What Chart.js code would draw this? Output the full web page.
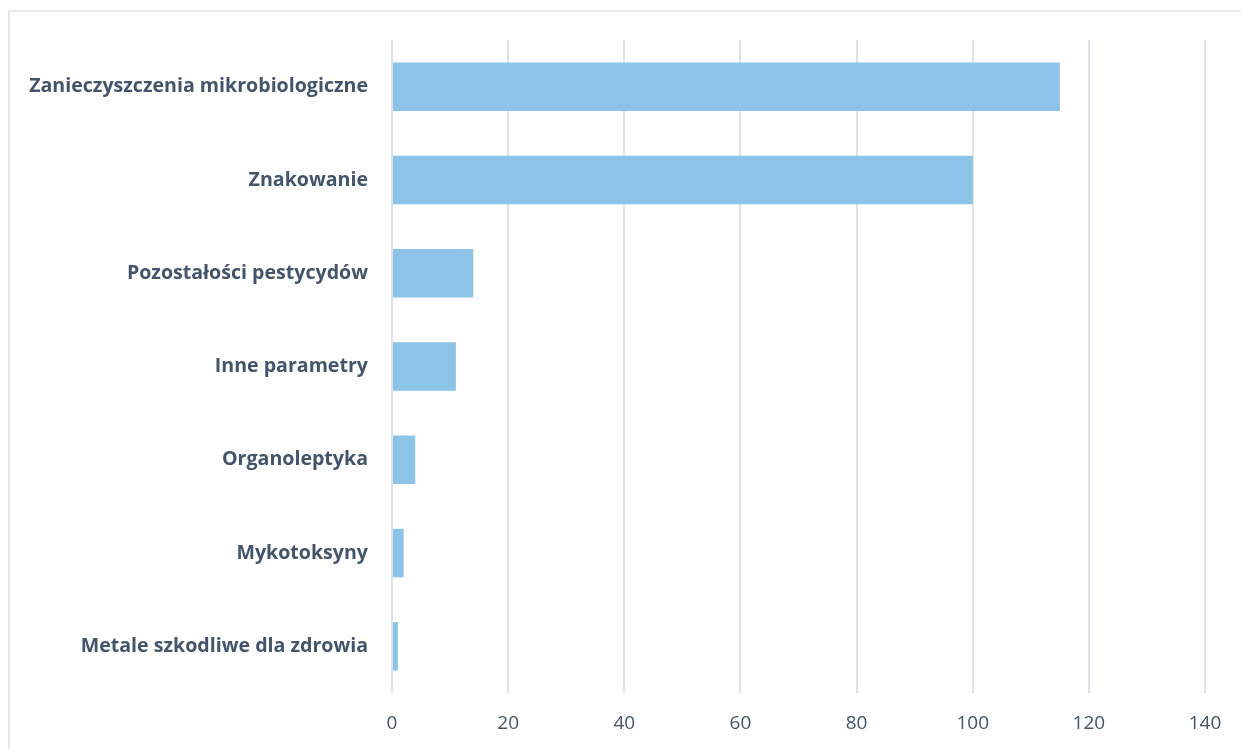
<!DOCTYPE html>
<html>
<head>
    <meta charset="utf-8">
    <title>Wyniki kontroli</title>
    <script src="https://cdn.jsdelivr.net/npm/chart.js"></script>
    <style>
        html, body {
            margin: 0;
            padding: 0;
            background: #fff;
            overflow: hidden;
        }
        .frame {
            position: absolute;
            left: 8px;
            top: 10px;
            width: 1400px;
            height: 900px;
            border: 2px solid #e4e7ee;
        }
        .chart-container {
            position: absolute;
            left: 0;
            top: 0;
            width: 1241px;
            height: 749px;
        }
    </style>
</head>
<body>
    <div class="frame"></div>
    <div class="chart-container">
        <canvas id="barChart"></canvas>
    </div>

    <script>
        const categories = [
            'Zanieczyszczenia mikrobiologiczne',
            'Znakowanie',
            'Pozostałości pestycydów',
            'Inne parametry',
            'Organoleptyka',
            'Mykotoksyny',
            'Metale szkodliwe dla zdrowia'
        ];
        const values = [115, 100, 14, 11, 4, 2, 1];
        const xMin = 0;
        const xMax = 140;
        const xStep = 20;

        const textColor = '#44546a';
        const ctx = document.getElementById('barChart').getContext('2d');

        new Chart(ctx, {
            type: 'bar',
            data: {
                labels: categories,
                datasets: [{
                    data: values,
                    backgroundColor: '#8cc3e6',
                    borderWidth: 0,
                    categoryPercentage: 1,
                    barPercentage: 0.52
                }]
            },
            options: {
                indexAxis: 'y',
                responsive: true,
                maintainAspectRatio: false,
                animation: false,
                layout: {
                    padding: { left: 0, right: 36, top: 40, bottom: 0 }
                },
                plugins: {
                    legend: { display: false },
                    tooltip: { enabled: false }
                },
                scales: {
                    x: {
                        min: xMin,
                        max: xMax,
                        ticks: {
                            stepSize: xStep,
                            color: textColor,
                            padding: 19,
                            font: { family: 'Open Sans', size: 19 }
                        },
                        grid: {
                            color: '#dde1e9',
                            lineWidth: 2,
                            drawTicks: false
                        },
                        border: { display: false },
                        afterFit: scale => { scale.height = 56; }
                    },
                    y: {
                        ticks: {
                            color: textColor,
                            padding: 24,
                            font: { family: 'Open Sans', size: 19.6, weight: 'bold' }
                        },
                        grid: { display: false, drawTicks: false },
                        border: { display: false },
                        afterFit: scale => { scale.width = 392; }
                    }
                }
            }
        });
    </script>
</body>
</html>
